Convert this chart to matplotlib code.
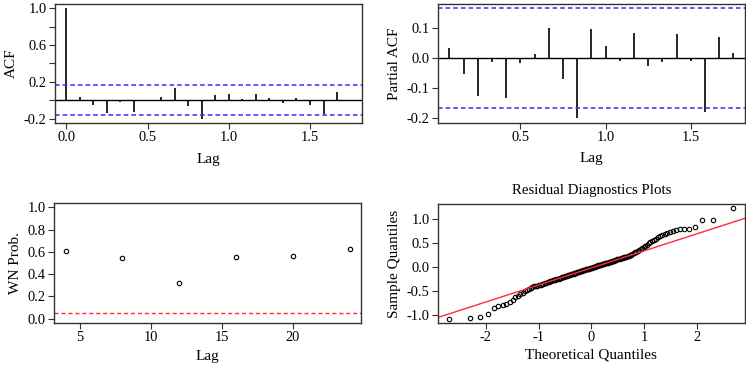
from statistics import NormalDist

import numpy as np
import matplotlib
matplotlib.use("Agg")
import matplotlib.pyplot as plt

plt.rcParams["font.family"] = ["Liberation Serif", "DejaVu Serif"]
plt.rcParams["axes.unicode_minus"] = False

# ACF / PACF of residuals, lags in years (monthly data)
acf_lags = np.arange(0, 22) / 12
acf_vals = [1.0, 0.03, -0.047, -0.135, -0.015, -0.124, -0.004, 0.03, 0.135, -0.062, -0.2,
            0.062, 0.073, 0.018, 0.073, 0.025, -0.025, 0.02, -0.047, -0.146, 0.087, 0.004]
pacf_lags = np.arange(1, 22) / 12
pacf_vals = [0.033, -0.052, -0.125, -0.013, -0.133, -0.017, 0.013, 0.1, -0.068, -0.2, 0.097,
             0.042, -0.008, 0.084, -0.025, -0.014, 0.08, -0.01, -0.178, 0.072, 0.018]
conf = 0.1657

# Ljung-Box white noise p-values
wn_lags = [4, 8, 12, 16, 20, 24]
wn_prob = [0.611, 0.545, 0.319, 0.557, 0.563, 0.63]

# sorted residuals for the normal QQ plot
resid = [
    -1.07, -1.05, -1.04, -0.975, -0.85, -0.815, -0.79, -0.76, -0.73, -0.68,
    -0.62, -0.59, -0.56, -0.53, -0.50, -0.47, -0.455, -0.44, -0.42, -0.40,
    -0.39, -0.38, -0.37, -0.36, -0.35, -0.34, -0.33, -0.325, -0.31, -0.30,
    -0.295, -0.285, -0.275, -0.265, -0.26, -0.25, -0.245, -0.235, -0.225, -0.22,
    -0.21, -0.205, -0.195, -0.19, -0.18, -0.175, -0.165, -0.16, -0.15, -0.145,
    -0.14, -0.13, -0.125, -0.12, -0.11, -0.105, -0.10, -0.09, -0.085, -0.08,
    -0.07, -0.065, -0.06, -0.05, -0.045, -0.04, -0.035, -0.025, -0.02, -0.015,
    -0.005, 0.0, 0.005, 0.01, 0.02, 0.025, 0.03, 0.04, 0.045, 0.05,
    0.055, 0.06, 0.07, 0.075, 0.08, 0.09, 0.095, 0.10, 0.11, 0.115,
    0.12, 0.13, 0.135, 0.14, 0.15, 0.155, 0.165, 0.17, 0.18, 0.19,
    0.195, 0.20, 0.21, 0.215, 0.225, 0.235, 0.24, 0.25, 0.26, 0.27,
    0.29, 0.31, 0.33, 0.35, 0.37, 0.39, 0.40, 0.42, 0.44, 0.47,
    0.50, 0.52, 0.55, 0.57, 0.60, 0.63, 0.65, 0.67, 0.69, 0.72,
    0.73, 0.75, 0.77, 0.79, 0.79, 0.80, 0.85, 0.99, 0.99, 1.23,
]

TICK_FS = 10.4
LAB_FS = 11
BLUE = "#2e2eff"
RED = "#ff2b3a"


def style(ax):
    for s in ax.spines.values():
        s.set_linewidth(1.0)
        s.set_color("#333333")
    ax.tick_params(direction="out", length=4, width=0.8, color="#333333",
                   labelsize=TICK_FS, pad=2)


def r_lim(lo, hi):
    pad = (hi - lo) * 0.04
    return lo - pad, hi + pad


fig = plt.figure(figsize=(7.46, 3.68), dpi=100)

# ACF
ax1 = fig.add_axes([0.0737, 0.6658, 0.4115, 0.3234])
ax1.vlines(acf_lags, 0, acf_vals, color="black", lw=1.2)
ax1.axhline(0, color="black", lw=1.0)
for c in (conf, -conf):
    ax1.axhline(c, color=BLUE, lw=1.1, ls=(0, (3, 2)))
ax1.set_xlim(r_lim(0, acf_lags[-1]))
ax1.set_ylim(r_lim(-0.2, 1.0))
ax1.set_xticks([0, 0.5, 1.0, 1.5])
ax1.set_yticks([-0.2, 0.0, 0.2, 0.4, 0.6, 0.8, 1.0])
ax1.set_yticklabels(["-0.2", "", "0.2", "", "0.6", "", "1.0"])
ax1.set_xlabel("Lag", fontsize=LAB_FS, labelpad=6)
ax1.set_ylabel("ACF", fontsize=LAB_FS, labelpad=4)
style(ax1)

# PACF
ax2 = fig.add_axes([0.5871, 0.6666, 0.4111, 0.3225])
ax2.vlines(pacf_lags, 0, pacf_vals, color="black", lw=1.2)
ax2.axhline(0, color="black", lw=1.0)
for c in (conf, -conf):
    ax2.axhline(c, color=BLUE, lw=1.1, ls=(0, (3, 2)))
ax2.set_xlim(r_lim(pacf_lags[0], pacf_lags[-1]))
ax2.set_ylim(r_lim(min(pacf_vals), conf))
ax2.set_xticks([0.5, 1.0, 1.5])
ax2.set_yticks([-0.2, -0.1, 0.0, 0.1])
ax2.set_yticklabels(["-0.2", "-0.1", "0.0", "0.1"])
ax2.set_xlabel("Lag", fontsize=LAB_FS, labelpad=6)
ax2.set_ylabel("Partial ACF", fontsize=LAB_FS, labelpad=4)
style(ax2)

# white noise p-values
ax3 = fig.add_axes([0.0728, 0.1223, 0.4111, 0.326])
ax3.plot(wn_lags, wn_prob, ls="none", marker="o", ms=3.2, mfc="none", mec="black", mew=0.8)
ax3.axhline(0.05, color=RED, lw=1.0, ls=(0, (3, 2)))
ax3.set_xlim(r_lim(wn_lags[0], wn_lags[-1]))
ax3.set_ylim(r_lim(0, 1))
ax3.set_xticks([5, 10, 15, 20])
ax3.set_yticks([0.0, 0.2, 0.4, 0.6, 0.8, 1.0])
ax3.set_yticklabels(["0.0", "0.2", "0.4", "0.6", "0.8", "1.0"])
ax3.set_xlabel("Lag", fontsize=LAB_FS, labelpad=4)
ax3.set_ylabel("WN Prob.", fontsize=LAB_FS, labelpad=4)
style(ax3)

# normal QQ plot
n = len(resid)
nd = NormalDist()
theo = np.array([nd.inv_cdf((i + 0.5) / n) for i in range(n)])
samp = np.array(resid)
q1, q3 = np.quantile(samp, [0.25, 0.75])
z1, z3 = nd.inv_cdf(0.25), nd.inv_cdf(0.75)
slope = (q3 - q1) / (z3 - z1)
icpt = q1 - slope * z1

ax4 = fig.add_axes([0.5871, 0.1223, 0.4111, 0.3234])
ax4.plot(theo, samp, ls="none", marker="o", ms=3.2, mfc="none", mec="black", mew=0.8)
ax4.axline((0, icpt), slope=slope, color=RED, lw=1.0)
ax4.set_xlim(r_lim(theo.min(), theo.max()))
ax4.set_ylim(r_lim(samp.min(), samp.max()))
ax4.set_xticks([-2, -1, 0, 1, 2])
ax4.set_yticks([-1.0, -0.5, 0.0, 0.5, 1.0])
ax4.set_yticklabels(["-1.0", "-0.5", "0.0", "0.5", "1.0"])
ax4.set_xlabel("Theoretical Quantiles", fontsize=LAB_FS, labelpad=3)
ax4.set_ylabel("Sample Quantiles", fontsize=LAB_FS, labelpad=4)
ax4.set_title("Residual Diagnostics Plots", fontsize=10.7, pad=7)
style(ax4)

fig.savefig("out.png", dpi=100)
